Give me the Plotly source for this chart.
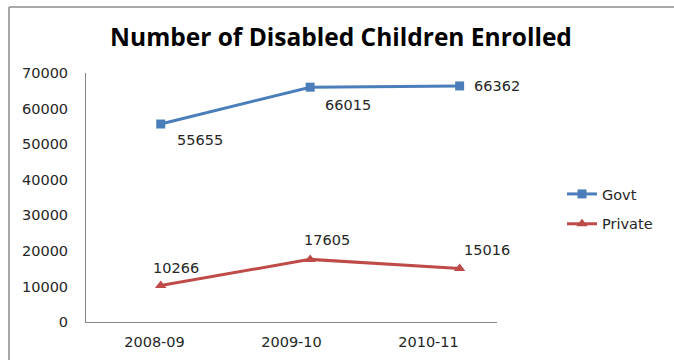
import plotly.graph_objects as go

categories = ["2008-09", "2009-10", "2010-11"]
govt = [55655, 66015, 66362]
private = [10266, 17605, 15016]
y_ticks = [0, 10000, 20000, 30000, 40000, 50000, 60000, 70000]

BLUE = "#4A7EBB"
RED = "#BE4B48"
AXIS = "#868686"
TXT = "#262626"
FONT = "DejaVu Sans"
FS = 14.5

fig = go.Figure()
fig.add_trace(go.Scatter(
    x=categories, y=govt, name="Govt", mode="lines+markers",
    line=dict(color=BLUE, width=3),
    marker=dict(symbol="square", size=9, color=BLUE),
    legendgroup="g", hoverinfo="skip"))
fig.add_trace(go.Scatter(
    x=categories, y=private, name="Private", mode="lines+markers",
    line=dict(color=RED, width=3),
    marker=dict(symbol="triangle-up", size=10, color=RED),
    legendgroup="p", hoverinfo="skip"))
# invisible trace carrying the category tick labels
fig.add_trace(go.Scatter(
    x=categories, y=[None] * len(categories), xaxis="x2",
    showlegend=False, hoverinfo="skip", mode="markers"))

# data labels
govt_shift = [(39, -16), (38, -18), (37, 0)]
priv_shift = [(15, 17), (17, 19), (27, 19)]
ann = []
for c, v, (dx, dy) in zip(categories, govt, govt_shift):
    ann.append(dict(x=c, y=v, xref="x", yref="y", text=str(v), showarrow=False,
                    xshift=dx, yshift=dy, font=dict(family=FONT, size=FS, color=TXT)))
for c, v, (dx, dy) in zip(categories, private, priv_shift):
    ann.append(dict(x=c, y=v, xref="x", yref="y", text=str(v), showarrow=False,
                    xshift=dx, yshift=dy, font=dict(family=FONT, size=FS, color=TXT)))

fig.update_layout(
    width=674, height=360,
    margin=dict(l=86, r=177, t=73, b=38, autoexpand=False),
    paper_bgcolor="white", plot_bgcolor="white",
    title=dict(text="<b>Number of Disabled Children Enrolled</b>",
               x=341 / 674, xanchor="center", xref="container",
               y=1 - 37 / 360, yanchor="middle", yref="container",
               font=dict(family="Open Sans", size=24.5, color="black")),
    xaxis=dict(type="category", range=[-0.5, 2.25], showticklabels=False,
               showline=True, linecolor=AXIS, linewidth=1, showgrid=False,
               zeroline=False, ticks="", automargin=False),
    xaxis2=dict(type="category", overlaying="x", side="bottom", range=[-0.5, 2.5],
                showline=False, showgrid=False, zeroline=False, ticks="",
                ticklabelstandoff=9, automargin=False,
                tickfont=dict(family=FONT, size=FS, color=TXT)),
    yaxis=dict(range=[0, 70000], tickvals=y_ticks, tickformat="d",
               showline=True, linecolor=AXIS,
               linewidth=1, showgrid=False, zeroline=False, ticks="",
               ticklabelstandoff=14, automargin=False,
               tickfont=dict(family=FONT, size=FS, color=TXT)),
    legend=dict(x=(562 - 86) / 411, xanchor="left", y=(322 - 178) / 249, yanchor="top",
                font=dict(family=FONT, size=FS, color=TXT), tracegroupgap=8,
                bgcolor="rgba(0,0,0,0)", itemwidth=30),
    annotations=ann,
    shapes=[
        dict(type="line", xref="paper", yref="paper",
             x0=(9 - 86) / 411, x1=(680 - 86) / 411,
             y0=(322 - 7) / 249, y1=(322 - 7) / 249,
             line=dict(color="#8c8c8c", width=1.5)),
        dict(type="line", xref="paper", yref="paper",
             x0=(9 - 86) / 411, x1=(9 - 86) / 411,
             y0=(322 - 7) / 249, y1=(322 - 365) / 249,
             line=dict(color="#8c8c8c", width=1.5)),
    ],
)

fig.write_html("out.html")
